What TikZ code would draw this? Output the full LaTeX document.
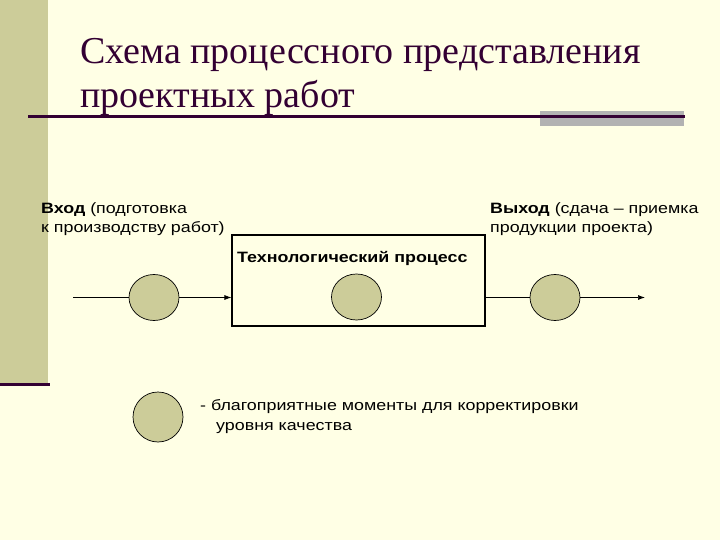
\documentclass[tikz,border=0pt]{standalone}
\usepackage{fontspec}
\setmainfont{Liberation Sans}[FakeStretch=1.19]
\newfontfamily\titlefont{Liberation Serif}
\usetikzlibrary{arrows.meta,shapes.geometric}
\definecolor{bgcream}{RGB}{255,255,229}
\definecolor{khaki}{RGB}{204,204,153}
\definecolor{darkplum}{RGB}{51,0,51}
\definecolor{bargray}{RGB}{178,178,178}
\tikzset{
  spot/.style={ellipse, draw=black, line width=0.7pt, fill=khaki, minimum width=50pt, minimum height=46pt, inner sep=0pt},
  flow/.style={draw=black, line width=0.7pt},
  arr/.style={flow, -{Latex[length=7pt,width=5pt]}},
  lbl/.style={anchor=base west, inner sep=0pt, font=\fontsize{15}{18}\selectfont},
  ttl/.style={anchor=base west, inner sep=0pt, text=darkplum, font=\titlefont\fontsize{38}{44}\selectfont}
}
\begin{document}
\begin{tikzpicture}[x=1pt,y=-1pt]
\useasboundingbox (0,0) rectangle (720,540);
\fill[bgcream] (0,0) rectangle (720,540);
% left bar
\fill[khaki] (0,0) rectangle (48,383);
\fill[darkplum] (0,382.5) rectangle (50,386);
% title
\node[ttl] (t1) at (80,64) {Схема процессного представления};
\node[ttl] (t2) at (80,108) {проектных работ};
% rule
\fill[bargray] (540,111) rectangle (684,126);
\fill[darkplum] (28,115.5) rectangle (685,118.5);
% labels
\node[lbl] (in1) at (41,214) {\textbf{Вход} (подготовка};
\node[lbl] (in2) at (41,233) {к производству работ)};
\node[lbl] (out1) at (490,214) {\textbf{Выход} (сдача – приемка};
\node[lbl] (out2) at (490,233) {продукции проекта)};
% process box
\node[draw=black, line width=1.1pt, minimum width=253pt, minimum height=91pt, inner sep=0pt] (proc) at (358.5,280.5) {};
\node[lbl, font=\bfseries\fontsize{15}{18}\selectfont] (proct) at (237,262) {Технологический процесс};
% circles
\node[spot] (c1) at (154,297.5) {};
\node[spot] (c2) at (356.5,297) {};
\node[spot] (c3) at (555,297.5) {};
\coordinate (start) at (73,297.5);
\coordinate (finish) at (645,297.5);
\draw[flow] (start) -- (c1.west);
\draw[arr] (c1.east) -- (proc.west |- c1.east);
\draw[flow] (proc.east |- c3.west) -- (c3.west);
\draw[arr] (c3.east) -- (finish);
% legend
\node[spot, minimum height=50pt] (leg) at (158,417) {};
\node[lbl] (lt1) at (200,410) {- благоприятные моменты для корректировки};
\node[lbl] (lt2) at (216,430) {уровня качества};
\end{tikzpicture}
\end{document}
